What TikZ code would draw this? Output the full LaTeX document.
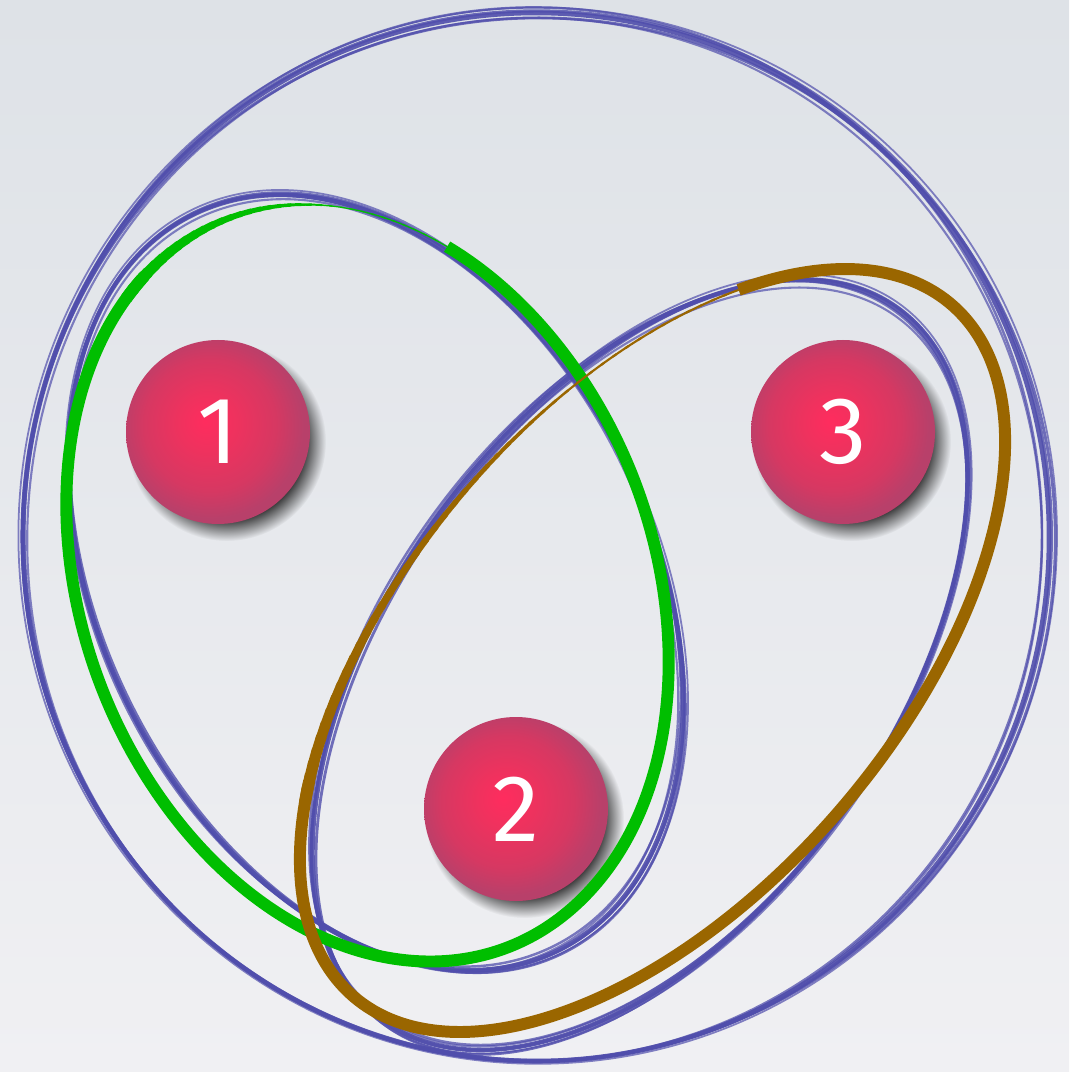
\documentclass[tikz,border=0pt]{standalone}
\usepackage{fontspec}
\newfontfamily\numfont{Fira Sans}
\usetikzlibrary{shadows,fadings}
\definecolor{bgtop}{RGB}{222,226,231}
\definecolor{bgbot}{RGB}{240,240,243}
\definecolor{skblue}{RGB}{80,78,172}
\definecolor{lgreen}{RGB}{0,190,0}
\definecolor{lbrown}{RGB}{154,102,0}
\definecolor{ballA}{RGB}{255,44,94}
\definecolor{ballB}{RGB}{238,50,94}
\definecolor{ballC}{RGB}{214,56,98}
\definecolor{ballD}{RGB}{184,64,106}
\pgfdeclareradialshading{ballshade}{\pgfpoint{-3.5bp}{3bp}}{color(0bp)=(ballA); color(8bp)=(ballB); color(18bp)=(ballC); color(25bp)=(ballD); color(50bp)=(ballD)}
\pgfdeclareradialshading{shfadeshade}{\pgfpointorigin}{color(0pt)=(pgftransparent!0); color(19pt)=(pgftransparent!0); color(25pt)=(pgftransparent!100); color(50pt)=(pgftransparent!100)}
\pgfdeclarefading{shfade}{\pgfuseshading{shfadeshade}}
\tikzset{
  ball/.style={circle, minimum size=1.84cm, inner sep=0pt, shading=ballshade, text=white,
    font=\numfont\fontsize{27}{27}\selectfont,
    general shadow={fill=black!85, fill opacity=1, shadow xshift=0.08cm, shadow yshift=-0.09cm, shadow scale=1.08, path fading=shfade}},
  greenline/.style={draw=lgreen},
  brownline/.style={draw=lbrown},
}
% sketchy loop: cx, cy, a, b, rotation, spread
\newcommand\skloop[6]{%
  \foreach \dx/\dy/\da/\db/\dr/\w/\o in {0/0/0/0/0/1.3/0.9, 0.02/-0.015/0.025/-0.02/0.5/0.8/0.8, -0.02/0.02/-0.03/0.02/-0.45/0.7/0.75, 0.012/0.01/0.045/0.03/0.2/0.5/0.7, -0.01/-0.02/-0.04/-0.015/-0.8/0.6/0.7, 0.005/0.005/0.012/0.01/-0.2/0.9/0.8}{%
    \draw[skblue, line width=\w pt, draw opacity=\o, rotate around={#5+\dr*#6:(#1+\dx*#6,#2+\dy*#6)}] (#1+\dx*#6,#2+\dy*#6) ellipse [x radius=#3+\da*#6, y radius=#4+\db*#6];
  }}
\begin{document}
\begin{tikzpicture}
\useasboundingbox (0,0) rectangle (10.69,-10.72);
\fill[top color=bgtop, bottom color=bgbot] (0,0) rectangle (10.69,-10.72);

\node[ball] (n1) at (2.18,-4.32) {1};
\node[ball] (n2) at (5.16,-8.09) {2};
\node[ball] (n3) at (8.43,-4.32) {3};

% blue sketchy loops
\skloop{5.36}{-5.37}{5.13}{5.24}{0}{1.4}
\skloop{3.755}{-5.825}{4.106}{2.76}{-63.5}{1}
\skloop{6.40}{-6.65}{4.387}{2.51}{54.2}{1}

% green loop
\begin{scope}[shift={(3.675,-5.83)}, rotate=-69]
  \draw[greenline, line width=3.4pt] (200:3.903 and 2.857) arc[start angle=200, end angle=497, x radius=3.903, y radius=2.857];
  \foreach \t in {137,139,...,203}{
    \pgfmathsetmacro\w{min(3.4,0.35+max(0,\t-158)*0.07)}
    \draw[greenline, line width=\w pt] (\t:3.903 and 2.857) arc[start angle=\t, end angle=\t+2.6, x radius=3.903, y radius=2.857];
  }
\end{scope}

% brown loop
\begin{scope}[shift={(6.525,-6.505)}, rotate=49.1]
  \draw[brownline, line width=3.4pt] (135:4.573 and 2.462) arc[start angle=135, end angle=404, x radius=4.573, y radius=2.462];
  \foreach \t in {44,46,...,136}{
    \pgfmathsetmacro\w{min(3.4,0.6+max(0,\t-70)*0.042)}
    \draw[brownline, line width=\w pt] (\t:4.573 and 2.462) arc[start angle=\t, end angle=\t+2.6, x radius=4.573, y radius=2.462];
  }
\end{scope}
\end{tikzpicture}
\end{document}
